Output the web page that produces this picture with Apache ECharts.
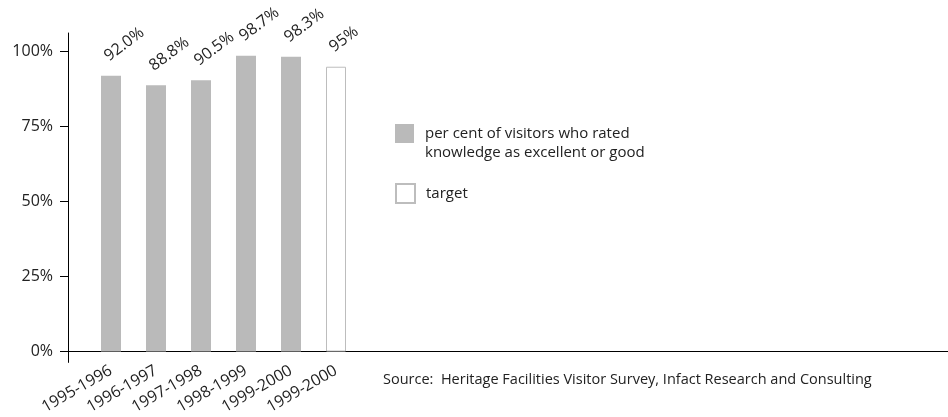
<!DOCTYPE html>
<html>
<head>
<meta charset="utf-8">
<script src="https://cdn.jsdelivr.net/npm/echarts@6/dist/echarts.min.js"></script>
<style>html,body{margin:0;padding:0;background:#fff;}#c{width:948px;height:417px;}</style>
</head>
<body>
<div id="c"></div>
<script>
const categories = ['1995-1996', '1996-1997', '1997-1998', '1998-1999', '1999-2000', '1999-2000'];
const actualPositions = [1, 2, 3, 4, 5];
const actualValues = [92.0, 88.8, 90.5, 98.7, 98.3];
const actualLabels = ['92.0%', '88.8%', '90.5%', '98.7%', '98.3%'];
const targetPositions = [6];
const targetValues = [95];
const targetLabels = ['95%'];
const yTickValues = [0, 25, 50, 75, 100];
const yTickLabels = ['0%', '25%', '50%', '75%', '100%'];
const seriesNames = ['per cent of visitors who rated\nknowledge as excellent or good', 'target'];
const sourceText = 'Source:  Heritage Facilities Visitor Survey, Infact Research and Consulting';

const FONT = 'Open Sans';
const TXT = '#222';

const chart = echarts.init(document.getElementById('c'), null, {renderer: 'canvas'});
const labelCommon = {
  show: true, position: 'top', rotate: 37, align: 'left', verticalAlign: 'bottom',
  offset: [4, -5], fontFamily: FONT, fontSize: 16, color: TXT
};
chart.setOption({
  animation: false,
  backgroundColor: '#fff',
  textStyle: {fontFamily: FONT},
  title: {
    text: sourceText, left: 383, top: 372, padding: 0,
    textStyle: {fontFamily: FONT, fontSize: 14.5, fontWeight: 'normal', color: TXT}
  },
  legend: [{
    data: [seriesNames[0]], orient: 'vertical', left: 395, top: 105, padding: 0,
    itemWidth: 19, itemHeight: 19, itemGap: 0, icon: 'rect',
    formatter: name => '\n' + name,
    textStyle: {fontFamily: FONT, fontSize: 15, color: TXT, lineHeight: 19, padding: [0, 0, 0, 6]},
    selectedMode: false
  }, {
    data: [seriesNames[1]], orient: 'vertical', left: 395, top: 183, padding: 0,
    itemWidth: 19, itemHeight: 19, icon: 'rect',
    textStyle: {fontFamily: FONT, fontSize: 15, color: TXT, padding: [0, 0, 0, 6]},
    selectedMode: false
  }],
  grid: {left: 68, right: 0, top: 33, bottom: 50, containLabel: false},
  xAxis: {
    type: 'value', min: 1 - 43 / 45, max: 1 - 43 / 45 + 880 / 45,
    splitLine: {show: false},
    axisLine: {show: true, onZero: true, lineStyle: {color: '#000', width: 1}},
    axisTick: {show: false},
    axisLabel: {
      customValues: [1, 2, 3, 4, 5, 6],
      formatter: v => categories[Math.round(v) - 1] || '',
      rotate: 30, margin: 7, fontFamily: FONT, fontSize: 16, color: TXT
    }
  },
  yAxis: {
    type: 'value', min: -(367 - 356) / 3.04, max: (356 - 33) / 3.04,
    splitLine: {show: false},
    axisLine: {show: true, lineStyle: {color: '#000', width: 1}},
    axisTick: {show: true, length: 8, customValues: yTickValues, lineStyle: {color: '#000'}},
    axisLabel: {
      customValues: yTickValues, margin: 15,
      formatter: v => yTickLabels[yTickValues.indexOf(v)] || '',
      fontFamily: FONT, fontSize: 16, color: TXT
    }
  },
  series: [{
    name: seriesNames[0], type: 'bar', barWidth: 20, barGap: '-100%',
    itemStyle: {color: '#bababa'},
    data: actualPositions.map((p, i) => [p, actualValues[i]]),
    label: Object.assign({}, labelCommon, {formatter: p => actualLabels[p.dataIndex]})
  }, {
    name: seriesNames[1], type: 'bar', barWidth: 20, barGap: '-100%',
    itemStyle: {color: '#ffffff', borderColor: '#bdbdbd', borderWidth: 1},
    data: targetPositions.map((p, i) => [p, targetValues[i]]),
    label: Object.assign({}, labelCommon, {formatter: p => targetLabels[p.dataIndex]})
  }]
});
</script>
</body>
</html>
